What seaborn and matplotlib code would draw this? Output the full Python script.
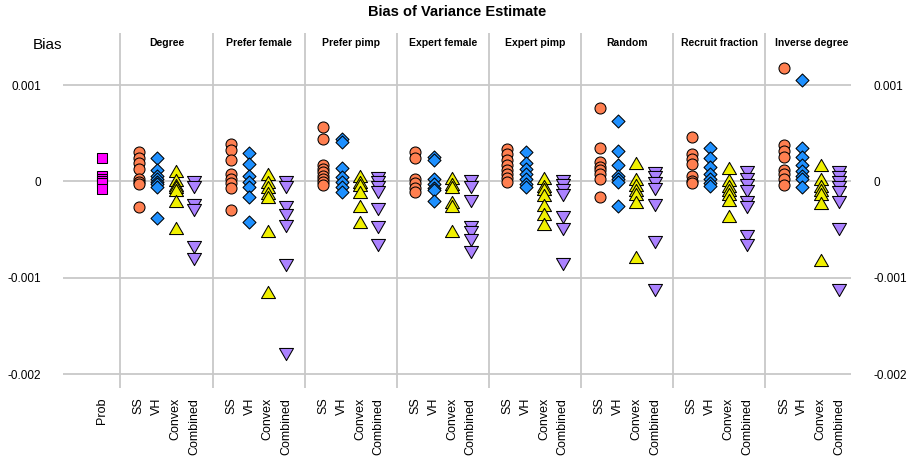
import numpy as np
import pandas as pd
import matplotlib
matplotlib.use("Agg")
import matplotlib.pyplot as plt
import matplotlib.transforms as mtransforms
from matplotlib.path import Path
import seaborn as sns

# ---- data -------------------------------------------------------------
designs = ["Degree", "Prefer female", "Prefer pimp", "Expert female",
           "Expert pimp", "Random", "Recruit fraction", "Inverse degree"]
methods = ["SS", "VH", "Convex", "Combined"]

prob = [0.000245, 0.00006, 0.00003, 0.0, -0.00002, -0.000075]

ss = {
    "Degree": [0.000304, 0.000245, 0.00019, 0.00013, 0.000028, -0.000007, -0.000031, -0.000266],
    "Prefer female": [0.00039, 0.00033, 0.000218, 0.000073, 0.000028, -0.000017, -0.000065, -0.0003],
    "Prefer pimp": [0.00057, 0.00044, 0.000166, 0.00013, 0.000096, 0.000062, 0.000028, -0.000007, -0.00004],
    "Expert female": [0.000304, 0.000245, 0.000028, -0.000017, -0.000065, -0.00011],
    "Expert pimp": [0.000339, 0.000287, 0.000225, 0.000166, 0.000121, 0.00008, 0.000038, -0.000007],
    "Random": [0.000764, 0.000349, 0.0002, 0.000155, 0.000114, 0.000073, 0.000028, -0.000163],
    "Recruit fraction": [0.000466, 0.000287, 0.000235, 0.000183, 0.000052, 0.00001, -0.000017],
    "Inverse degree": [0.001178, 0.000383, 0.000321, 0.000259, 0.000114, 0.000073, 0.000028, -0.00004],
}
vh = {
    "Degree": [0.000245, 0.000124, 0.00006, 0.000028, -0.000007, -0.00003, -0.000059, -0.000376],
    "Prefer female": [0.000293, 0.000183, 0.000062, -0.000007, -0.000059, -0.000163, -0.00042],
    "Prefer pimp": [0.00044, 0.000407, 0.000142, 0.000045, -0.000007, -0.000059, -0.00011],
    "Expert female": [0.000252, 0.000225, 0.000028, -0.000024, -0.000065, -0.000093, -0.000204],
    "Expert pimp": [0.000304, 0.00019, 0.00013, 0.00008, 0.000028, -0.000024, -0.000059],
    "Random": [0.000632, 0.000321, 0.000166, 0.000062, 0.000028, -0.000007, -0.00025],
    "Recruit fraction": [0.000345, 0.000245, 0.000148, 0.000073, 0.000028, -0.000017, -0.000052],
    "Inverse degree": [0.001054, 0.000349, 0.000252, 0.000166, 0.000107, 0.000062, 0.000028, -0.000059],
}
convex = {
    "Degree": [0.00009, -0.00001, -0.00006, -0.00008, -0.000105, -0.00022, -0.0005],
    "Prefer female": [0.000056, -0.000027, -0.00008, -0.00014, -0.000183, -0.00053, -0.001167],
    "Prefer pimp": [0.000032, -0.000027, -0.00006, -0.00013, -0.00027, -0.00044],
    "Expert female": [0.000018, -0.000044, -0.000079, -0.000234, -0.00027, -0.00053],
    "Expert pimp": [0.000015, -0.000072, -0.000096, -0.000165, -0.00026, -0.000355, -0.00046],
    "Random": [0.00017, 0.000008, -0.00006, -0.000106, -0.000148, -0.000234, -0.000804],
    "Recruit fraction": [0.000122, -0.000003, -0.000072, -0.000113, -0.000148, -0.000217, -0.00038],
    "Inverse degree": [0.000153, 0.000008, -0.000072, -0.000106, -0.000148, -0.000245, -0.000839],
}
combined = {
    "Degree": [0.000015, -0.00004, -0.00022, -0.00027, -0.00066, -0.00078],
    "Prefer female": [0.000013, -0.00004, -0.000246, -0.000332, -0.000436, -0.00085, -0.00177],
    "Prefer pimp": [0.000055, 0.000013, -0.00004, -0.00009, -0.000263, -0.000453, -0.000643],
    "Expert female": [0.000023, -0.00004, -0.000177, -0.000453, -0.000505, -0.000584, -0.000713],
    "Expert pimp": [0.00003, -0.00002, -0.000066, -0.000115, -0.00035, -0.00047, -0.000833],
    "Random": [0.000106, 0.000065, 0.000003, -0.000056, -0.00022, -0.00061, -0.00111],
    "Recruit fraction": [0.000116, 0.000048, -0.00002, -0.000073, -0.000194, -0.000246, -0.00054, -0.000643],
    "Inverse degree": [0.000116, 0.000065, 0.000013, -0.000039, -0.00009, -0.000194, -0.00047, -0.00111],
}

ytick_values = [0.001, 0.0, -0.001, -0.002]
ytick_labels = ["0.001", "0", "-0.001", "-0.002"]

# ---- long table: one column slot for Prob, then 4 slots per design
# separated by a spacer slot --------------------------------------------
series = {"SS": ss, "VH": vh, "Convex": convex, "Combined": combined}
rows = [{"pos": 0, "method": "Prob", "bias": v} for v in prob]
slot_labels = {0: "Prob"}
for k, d in enumerate(designs):
    for m, meth in enumerate(methods):
        pos = 2 + 5 * k + m
        slot_labels[pos] = meth
        rows += [{"pos": pos, "method": meth, "bias": v} for v in series[meth][d]]
df = pd.DataFrame(rows)

# ---- marker shapes (R-style plotting symbols) ---------------------------
tri_up = Path([(0, 1.5551), (1.3468, -0.7776), (-1.3468, -0.7776), (0, 1.5551)], closed=True)
tri_dn = Path([(0, -1.5551), (1.3468, 0.7776), (-1.3468, 0.7776), (0, -1.5551)], closed=True)
diamond = Path([(0, 1), (1, 0), (0, -1), (-1, 0), (0, 1)], closed=True)

style = {
    "Prob":     dict(marker="s",     color="#FF00FF", s=49),
    "SS":       dict(marker="o",     color="#FF7F50", s=63),
    "VH":       dict(marker=diamond, color="#1E90FF", s=88),
    "Convex":   dict(marker=tri_up,  color="#F0F000", s=136),
    "Combined": dict(marker=tri_dn,  color="#AB82FF", s=136),
}

# ---- figure --------------------------------------------------------------
sns.set_style("white")
plt.rcParams["font.family"] = ["Liberation Sans", "DejaVu Sans"]
plt.rcParams["text.color"] = "black"
plt.rcParams["xtick.color"] = "black"
plt.rcParams["ytick.color"] = "black"

W, H = 915, 468
fig = plt.figure(figsize=(W / 100, H / 100), dpi=100)
ax = fig.add_axes([63 / W, 1 - 388 / H, (851 - 63) / W, (388 - 33) / H])

grid_col = "#C8C8C8"
for d_i in range(len(designs)):
    ax.axvline(1 + 5 * d_i, color=grid_col, lw=1.3, zorder=0)
for yv in ytick_values:
    ax.axhline(yv, color=grid_col, lw=1.3, zorder=0)

for meth in ["Prob"] + methods:
    sub = df[df["method"] == meth]
    st = style[meth]
    sns.scatterplot(data=sub, x="pos", y="bias", ax=ax, marker=st["marker"],
                    color=st["color"], s=st["s"], edgecolor="black",
                    linewidth=0.75, zorder=3, legend=False)

ax.set_xlim(-2.116, 40.64)
ax.set_ylim(-0.002142, 0.00154)
ax.set_xlabel("")
ax.set_ylabel("")
for sp in ax.spines.values():
    sp.set_visible(False)

positions = sorted(slot_labels)
ax.set_xticks(positions)
ax.set_xticklabels([slot_labels[p] for p in positions], rotation=90)
ax.tick_params(axis="x", length=0, pad=7, labelsize=9, labelcolor="black")

ax.set_yticks(ytick_values)
ax.set_yticklabels(ytick_labels)
ax.tick_params(axis="y", length=0, pad=16, labelsize=8.5, labelcolor="black",
               labelleft=True, labelright=True)

trans = mtransforms.blended_transform_factory(ax.transData, ax.transAxes)
for k, d in enumerate(designs):
    ax.text(3.5 + 5 * k, 0.972, d, transform=trans, ha="center", va="center",
            fontsize=7.5, fontweight="bold", color="black")

fig.text(0.5, 1 - 12 / H, "Bias of Variance Estimate", ha="center",
         va="center", fontsize=10.5, fontweight="bold", color="black")
fig.text(48 / W, 1 - 45 / H, "Bias", ha="center", va="center", fontsize=11,
         color="black")

fig.savefig("out.png", dpi=100)
